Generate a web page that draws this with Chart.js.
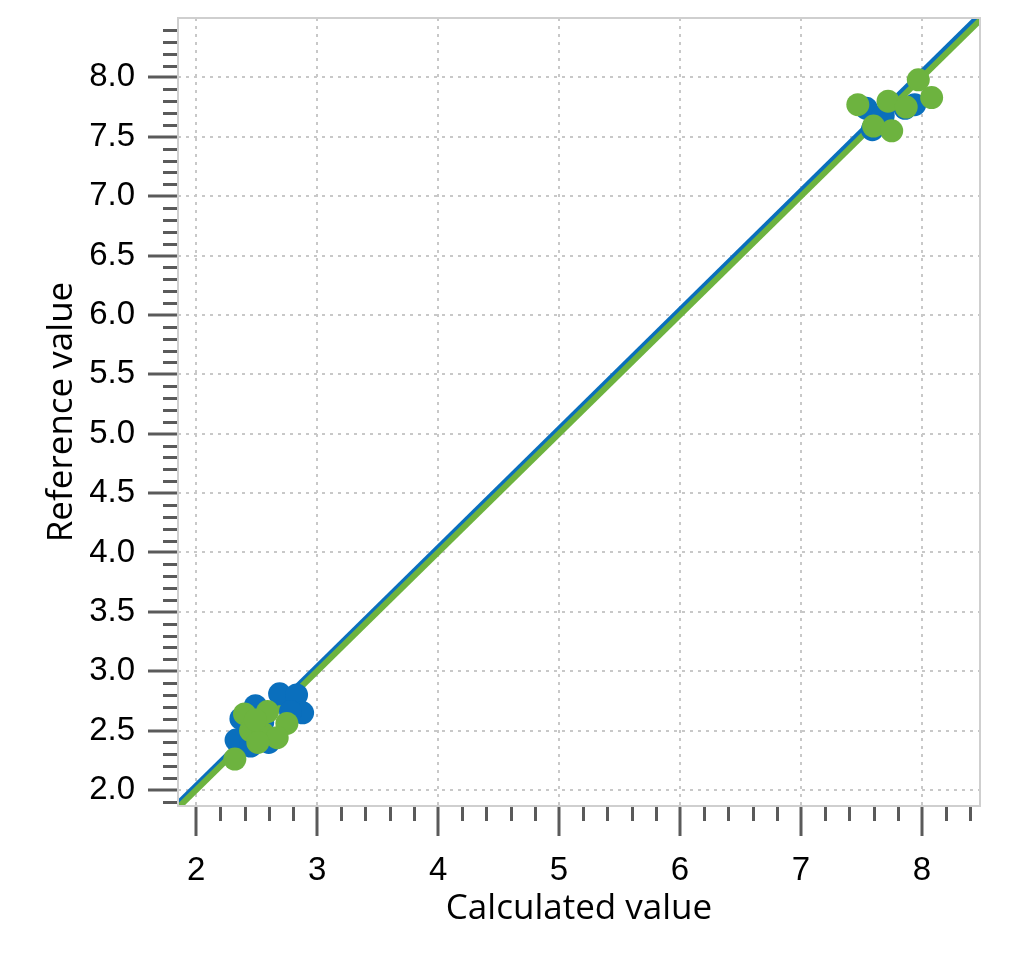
<!DOCTYPE html>
<html>
<head>
<meta charset="utf-8">
<script src="https://cdn.jsdelivr.net/npm/chart.js@4"></script>
<style>
  html, body { margin: 0; padding: 0; background: #fff; }
  #chart { display: block; }
</style>
</head>
<body>
<canvas id="chart" width="1024" height="960"></canvas>
<script>
// points
const blueX = [2.33, 2.37, 2.49, 2.69, 2.83, 2.88, 2.78, 2.60, 2.45, 2.55, 7.54, 7.59, 7.68, 7.86, 7.94];
const blueY = [2.42, 2.60, 2.71, 2.81, 2.80, 2.65, 2.66, 2.40, 2.37, 2.57, 7.74, 7.56, 7.68, 7.74, 7.77];
const greenX = [2.32, 2.40, 2.59, 2.45, 2.55, 2.75, 2.67, 2.49, 2.51, 7.47, 7.60, 7.72, 7.75, 7.87, 7.97, 8.08];
const greenY = [2.26, 2.64, 2.66, 2.50, 2.48, 2.56, 2.44, 2.59, 2.40, 7.77, 7.59, 7.80, 7.55, 7.75, 7.98, 7.83];

// fit lines (ends at the axis limits)
const blueLineX = [1.85, 8.48];
const blueLineY = [1.885, 8.525];
const greenLineX = [1.85, 8.48];
const greenLineY = [1.85, 8.48];

const xTicks = [2, 3, 4, 5, 6, 7, 8];
const yTicks = [2.0, 2.5, 3.0, 3.5, 4.0, 4.5, 5.0, 5.5, 6.0, 6.5, 7.0, 7.5, 8.0];
const xMin = 1.85, xMax = 8.48;
const yMin = 1.865, yMax = 8.5;

const BLUE = "#0a6fbd";
const GREEN = "#6db33f";

function toPoints(xs, ys) {
    return xs.map((x, i) => ({ x: x, y: ys[i] }));
}

function minorTicks(min, max, step, major) {
    const out = [];
    for (let v = Math.ceil(min / step) * step; v <= max + 1e-9; v += step) {
        const r = Math.round(v * 10) / 10;
        if (Math.abs(r / major - Math.round(r / major)) > 1e-6) out.push(r);
    }
    return out;
}
const xMinor = minorTicks(xMin, xMax, 0.2, 1);
const yMinor = minorTicks(yMin, yMax, 0.1, 0.5);

// minor tick marks and the grey frame
const framePlugin = {
    id: "frame",
    afterDraw(chart) {
        const ctx = chart.ctx;
        const a = chart.chartArea;
        const xs = chart.scales.x, ys = chart.scales.y;
        ctx.save();
        ctx.strokeStyle = "#5a5a5a";
        ctx.lineWidth = 3;
        ctx.beginPath();
        xMinor.forEach(v => {
            const px = Math.round(xs.getPixelForValue(v)) + 0.5;
            ctx.moveTo(px, a.bottom);
            ctx.lineTo(px, a.bottom + 15);
        });
        yMinor.forEach(v => {
            const py = Math.round(ys.getPixelForValue(v)) + 0.5;
            ctx.moveTo(a.left, py);
            ctx.lineTo(a.left - 15, py);
        });
        ctx.stroke();
        ctx.strokeStyle = "#cfcfcf";
        ctx.lineWidth = 2;
        ctx.strokeRect(a.left, a.top, a.right - a.left, a.bottom - a.top);
        ctx.restore();
    }
};

const ctx = document.getElementById("chart").getContext("2d");
new Chart(ctx, {
    type: "scatter",
    data: {
        datasets: [
            {
                data: toPoints(greenX, greenY),
                backgroundColor: GREEN,
                pointRadius: 11.5,
                pointBorderWidth: 0,
                order: 0
            },
            {
                data: toPoints(blueX, blueY),
                backgroundColor: BLUE,
                pointRadius: 11.5,
                pointBorderWidth: 0,
                order: 1
            },
            {
                type: "line",
                data: toPoints(greenLineX, greenLineY),
                borderColor: GREEN,
                borderWidth: 6,
                pointRadius: 0,
                order: 2
            },
            {
                type: "line",
                data: toPoints(blueLineX, blueLineY),
                borderColor: BLUE,
                borderWidth: 6,
                pointRadius: 0,
                order: 3
            }
        ]
    },
    options: {
        responsive: false,
        animation: false,
        layout: { padding: { top: 18, right: 44, left: 0, bottom: 0 } },
        plugins: { legend: { display: false }, tooltip: { enabled: false } },
        scales: {
            x: {
                type: "linear",
                min: xMin,
                max: xMax,
                afterBuildTicks: s => { s.ticks = xTicks.map(v => ({ value: v })); },
                afterFit: s => { s.height = 154; s.paddingLeft = 0; s.paddingRight = 0; },
                border: { display: false, dash: [3, 5] },
                grid: {
                    color: "#c8c8c8",
                    lineWidth: 2,
                    tickColor: "#5a5a5a",
                    tickWidth: 3,
                    tickLength: 30
                },
                ticks: {
                    color: "#000",
                    padding: 15,
                    font: { family: "'Liberation Sans', Arial", size: 33 },
                    maxRotation: 0,
                    callback: v => String(v)
                },
                title: {
                    display: true,
                    text: "Calculated value",
                    color: "#000",
                    font: { family: "'Open Sans'", size: 35 },
                    padding: { top: 30, bottom: 30 }
                }
            },
            y: {
                type: "linear",
                min: yMin,
                max: yMax,
                afterBuildTicks: s => { s.ticks = yTicks.map(v => ({ value: v })); },
                afterFit: s => { s.width = 178; s.paddingTop = 0; s.paddingBottom = 0; },
                border: { display: false, dash: [3, 5] },
                grid: {
                    color: "#c8c8c8",
                    lineWidth: 2,
                    tickColor: "#5a5a5a",
                    tickWidth: 3,
                    tickLength: 30
                },
                ticks: {
                    color: "#000",
                    padding: 13,
                    font: { family: "'Liberation Sans', Arial", size: 33 },
                    callback: v => v.toFixed(1)
                },
                title: {
                    display: true,
                    text: "Reference value",
                    color: "#000",
                    font: { family: "'Open Sans'", size: 35 },
                    padding: { top: 41, bottom: 41 }
                }
            }
        }
    },
    plugins: [framePlugin]
});
</script>
</body>
</html>
